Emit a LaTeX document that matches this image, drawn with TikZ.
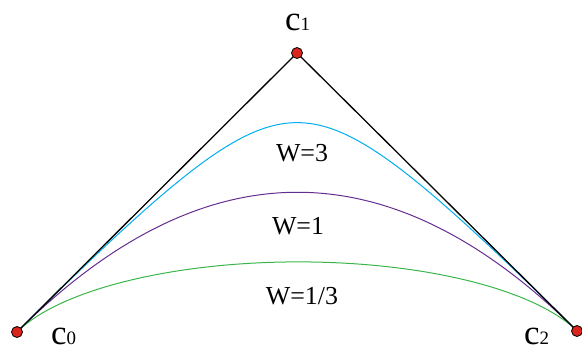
\documentclass[tikz,border=0pt]{standalone}
\usepackage{fontspec}
\setmainfont{Liberation Serif}
\newfontfamily\serifw{Liberation Serif}
\definecolor{cw3}{RGB}{0,174,239}
\definecolor{cw1}{RGB}{102,45,145}
\definecolor{cwt}{RGB}{57,181,74}
\definecolor{dotred}{RGB}{218,37,29}
\tikzset{
  ctrl/.style={circle,draw=black,fill=dotred,line width=0.8bp,inner sep=0pt,minimum size=11bp},
  polyline/.style={draw=black,line width=1.3bp},
  curve/.style={line width=1bp},
  wlabel/.style={font=\serifw\fontsize{26}{30}\selectfont,inner sep=0pt},
  clabel/.style={font=\serifw\fontsize{35}{40}\selectfont,inner sep=0pt,anchor=base west}
}
\newcommand{\ratcurve}[2]{%
  \draw[curve,#2,domain=0:1,samples=120,variable=\t]
    plot ({((1-\t)^2*17 + 2*#1*\t*(1-\t)*297 + \t^2*577)/((1-\t)^2+2*#1*\t*(1-\t)+\t^2)},
          {((1-\t)^2*332 + 2*#1*\t*(1-\t)*53 + \t^2*331)/((1-\t)^2+2*#1*\t*(1-\t)+\t^2)});}
\begin{document}
\begin{tikzpicture}[x=1bp,y=-1bp]
\useasboundingbox (0,0) rectangle (582,347);
\coordinate (c0) at (17,332);
\coordinate (c1) at (297,53);
\coordinate (c2) at (577,331);
\ratcurve{3}{cw3}
\ratcurve{1}{cw1}
\ratcurve{0.333333}{cwt}
\draw[polyline] (c0) -- (c1) -- (c2);
\node[ctrl] (d0) at (c0) {};
\node[ctrl] (d1) at (c1) {};
\node[ctrl] (d2) at (c2) {};
\node[clabel] (l0) at (51,344.5) {c\fontsize{19}{22}\selectfont 0};
\node[clabel] (l1) at (285,30) {c\fontsize{19}{22}\selectfont 1};
\node[clabel] (l2) at (524,344.5) {c\fontsize{19}{22}\selectfont 2};
\node[wlabel] (w3) at (302,153) {W=3};
\node[wlabel] (w1) at (298,226) {W=1};
\node[wlabel] (wt) at (302,296) {W=1/3};
\end{tikzpicture}
\end{document}
